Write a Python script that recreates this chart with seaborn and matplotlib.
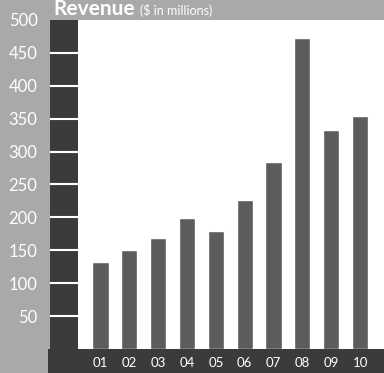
import numpy as np
import pandas as pd
import seaborn as sns
from matplotlib import pyplot as plt

years = ['01', '02', '03', '04', '05', '06', '07', '08', '09', '10']
revenue = [133, 150, 168, 199, 179, 226, 284, 473, 333, 354]
yticks = [50, 100, 150, 200, 250, 300, 350, 400, 450, 500]

df = pd.DataFrame({'year': years, 'revenue': revenue})

sns.set_style('white')
plt.rcParams['font.family'] = ['Lato', 'DejaVu Sans']

W, H = 384, 373
bg = '#a9a9a9'
dark = '#3b3b3b'
bar_col = '#5c5c5c'

fig = plt.figure(figsize=(W / 100, H / 100), dpi=100, facecolor=bg)

# dark band with the y scale
band = fig.add_axes([50 / W, 0, 28 / W, (H - 20) / H], facecolor=dark)
band.set_ylim(-36.5, 500)
band.set_xlim(0, 1)
band.set_xticks([])
band.set_yticks(yticks)
band.set_yticklabels([str(v) for v in yticks], color='white', fontsize=12)
band.tick_params(axis='y', left=True, direction='in', length=28 * 0.72, width=1.5, color='white', pad=9)
band.yaxis.get_major_ticks()[-1].tick1line.set_visible(False)
for s in band.spines.values():
    s.set_visible(False)

# main plot area
ax = fig.add_axes([78 / W, 20 / H, (W - 78) / W, (H - 40) / H], facecolor='white')
sns.barplot(data=df, x='year', y='revenue', color=bar_col, width=0.56, saturation=1, ax=ax)
ax.set_ylim(-6, 500)
ax.set_xlim(-0.78, 9.83)
ax.set_yticks([])
ax.set_xlabel('')
ax.set_ylabel('')
ax.tick_params(axis='x', length=0, pad=6, labelcolor='white', labelsize=9.5)
for s in ax.spines.values():
    s.set_visible(False)

# bottom band, laid over the foot of the plot area
bottom = fig.add_axes([48 / W, 0, 1, 24 / H], facecolor=dark, zorder=5)
bottom.set_xticks([])
bottom.set_yticks([])
for s in bottom.spines.values():
    s.set_visible(False)
for x, lab in zip(ax.get_xticks(), years):
    xf = (78 + (x + 0.78) / (9.83 + 0.78) * (W - 78)) / W
    bottom.text(xf, 10 / H, lab, transform=fig.transFigure, color='white',
                fontsize=9.5, ha='center', va='center')
ax.set_xticklabels([])

fig.text(53 / W, 1 - 15 / H, 'Revenue', color='white', fontsize=15, fontweight='bold', va='baseline')
fig.text(140 / W, 1 - 15 / H, '($ in millions)', color='white', fontsize=9, va='baseline')

fig.savefig('out.png', dpi=100, facecolor=bg)
